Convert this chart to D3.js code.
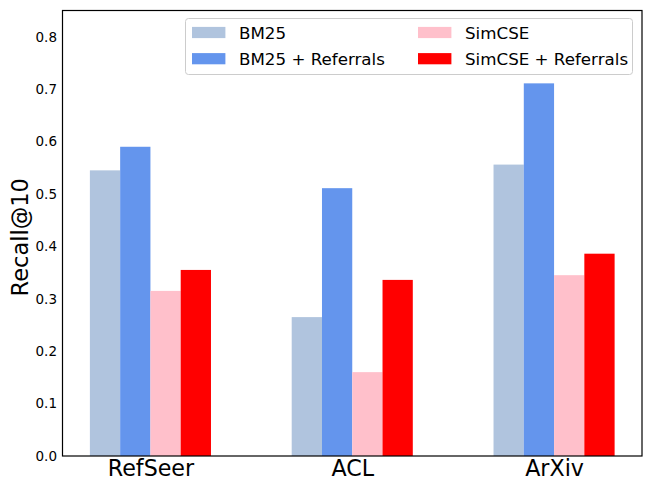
<!DOCTYPE html>
<html>
<head>
<meta charset="utf-8">
<script src="https://cdn.jsdelivr.net/npm/d3@7"></script>
<style>
  html, body { margin: 0; padding: 0; background: #fff; }
  svg { display: block; font-family: "DejaVu Sans", sans-serif; }
</style>
</head>
<body>
<svg id="chart" width="651" height="491"></svg>
<script>
const categories = ["RefSeer", "ACL", "ArXiv"];
const seriesNames = ["BM25", "BM25 + Referrals", "SimCSE", "SimCSE + Referrals"];
const seriesColors = ["#B0C4DE", "#6495ED", "#FFC0CB", "#FF0000"];
const bm25 = [0.545, 0.265, 0.556];
const bm25Ref = [0.590, 0.511, 0.711];
const simcse = [0.315, 0.160, 0.345];
const simcseRef = [0.355, 0.336, 0.386];
const yTicks = [0.0, 0.1, 0.2, 0.3, 0.4, 0.5, 0.6, 0.7, 0.8];

const series = [bm25, bm25Ref, simcse, simcseRef];
const barW = 0.15;

const svg = d3.select("#chart");
const pLeft = 62.5, pRight = 642, pTop = 10.5, pBottom = 456;

const x = d3.scaleLinear().domain([-0.4357, 2.4357]).range([pLeft, pRight]);
const y = d3.scaleLinear().domain([0, 0.85]).range([pBottom, pTop]);

// bars
series.forEach((vals, j) => {
  svg.append("g").selectAll("rect").data(vals).join("rect")
    .attr("x", (d, i) => x(i + (j - 1.5) * barW - barW / 2))
    .attr("width", x(barW) - x(0))
    .attr("y", d => y(d))
    .attr("height", d => y(0) - y(d))
    .attr("fill", seriesColors[j]);
});

// y axis
const yAxis = d3.axisLeft(y).tickValues(yTicks).tickFormat(d3.format(".1f")).tickSize(0).tickPadding(5.5);
const gy = svg.append("g").attr("transform", `translate(${pLeft},0)`).call(yAxis);
gy.select(".domain").remove();
gy.selectAll("text").attr("font-size", "13.5px").attr("fill", "#000").attr("font-family", "DejaVu Sans");

// x axis
const xAxis = d3.axisBottom(x).tickValues(categories.map((c, i) => i)).tickFormat(i => categories[i]).tickSize(0).tickPadding(4);
const gx = svg.append("g").attr("transform", `translate(0,${pBottom})`).call(xAxis);
gx.select(".domain").remove();
gx.selectAll("text").attr("font-size", "22.2px").attr("fill", "#000").attr("font-family", "DejaVu Sans");

// frame
svg.append("rect").attr("x", pLeft).attr("y", pTop).attr("width", pRight - pLeft).attr("height", pBottom - pTop)
  .attr("fill", "none").attr("stroke", "#000").attr("stroke-width", 1.2);

// y label
svg.append("text").attr("transform", `translate(28,${(pTop + pBottom) / 2 + 4}) rotate(-90)`)
  .attr("text-anchor", "middle").attr("font-size", "22.5px").text("Recall@10");

// legend
const lg = svg.append("g");
lg.append("rect").attr("x", 185.5).attr("y", 18.5).attr("width", 447).attr("height", 56)
  .attr("rx", 3).attr("fill", "#fff").attr("fill-opacity", 0.8).attr("stroke", "#cccccc").attr("stroke-width", 1);
const colX = [192, 418];
const rowY = [32.5, 58.7];
seriesNames.forEach((name, k) => {
  const c = Math.floor(k / 2), r = k % 2;
  lg.append("rect").attr("x", colX[c]).attr("y", rowY[r] - 5.6).attr("width", 33.4).attr("height", 11.2)
    .attr("fill", seriesColors[k]);
  lg.append("text").attr("x", colX[c] + 47).attr("y", rowY[r]).attr("dy", "0.36em")
    .attr("font-size", "16.7px").text(name);
});
</script>
</body>
</html>
